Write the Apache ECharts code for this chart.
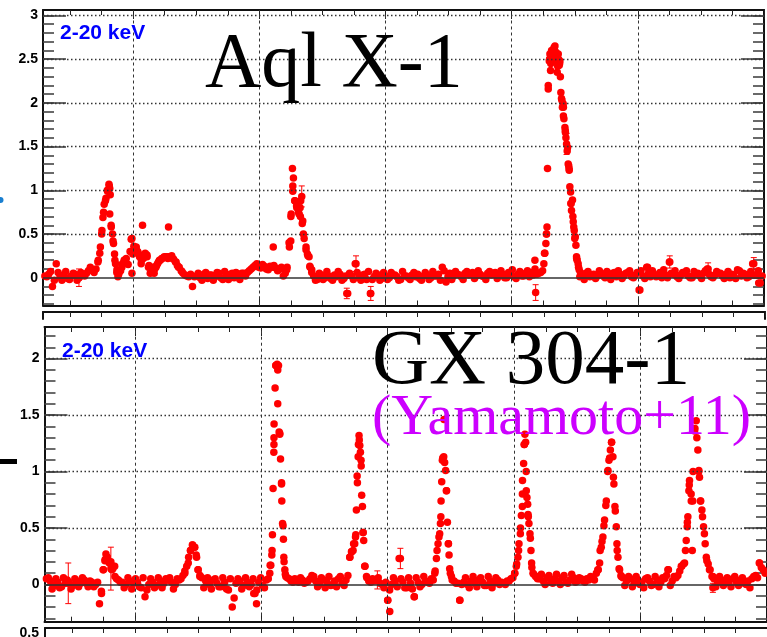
<!DOCTYPE html>
<html>
<head>
<meta charset="utf-8">
<script src="https://cdn.jsdelivr.net/npm/echarts@6/dist/echarts.min.js"></script>
<style>
  html, body { margin: 0; padding: 0; background: #fff; }
  #main { width: 767px; height: 637px; }
</style>
</head>
<body>
<div id="main"></div>
<script>
// time axis in days (arbitrary zero), dotted grid every 100 d
const tStart = -70, tStep = 3;
const tStartMid = -68.5;   // second pass, half a step later
const xRange = [-71.5, 500];
const xMinorTicks = [-50, -25, 0, 25, 50, 75, 100, 125, 150, 175, 200, 225, 250, 275, 300, 325, 350, 375, 400, 425, 450, 475, 500];
const xMajorTicks = [0, 100, 200, 300, 400, 500];
const xGridLines = [0, 100, 200, 300, 400];

// ---- Aql X-1 (top) ----
const aqlRange = [-0.318, 3.063];
const aqlMajor = [0, 0.5, 1, 1.5, 2, 2.5, 3];
const aqlMinor = [-0.3, -0.2, -0.1, 0, 0.1, 0.2, 0.3, 0.4, 0.5, 0.6, 0.7, 0.8, 0.9, 1, 1.1, 1.2, 1.3, 1.4, 1.5, 1.6, 1.7, 1.8, 1.9, 2, 2.1, 2.2, 2.3, 2.4, 2.5, 2.6, 2.7, 2.8, 2.9, 3];
// one value every tStep days from tStart
const aqlBase = [
  0.02, 0.04, -0.10, 0.16, 0.01, 0.03, -0.01, 0.02, 0.04, 0.00,
  0.03, 0.05, 0.12, 0.06, 0.18, 0.50, 0.88, 1.05, 0.42, 0.06,
  0.08, 0.20, 0.15, 0.45, 0.33, 0.26, 0.22, 0.24, 0.06, 0.10,
  0.18, 0.22, 0.24, 0.24, 0.21, 0.14, 0.08, 0.03, 0.01, -0.10,
  0.02, 0.00, 0.04, -0.01, 0.03, 0.01, 0.05, -0.02, 0.02, 0.04,
  0.00, 0.03, 0.05, 0.02, 0.08, 0.12, 0.16, 0.11, 0.13, 0.09,
  0.12, 0.11, 0.10, 0.02, 0.12, 0.70, 0.88, 0.75, 0.62, 0.32,
  0.13, 0.02, -0.02, 0.03, 0.00, 0.02, -0.03, 0.01, 0.04, -0.01,
  -0.18, 0.02, 0.16, 0.00, 0.03, -0.02, -0.18, 0.01, 0.03, -0.01,
  0.02, 0.00, 0.03, 0.01, -0.02, 0.02, 0.00, 0.03, 0.01, -0.01,
  0.02, 0.03, 0.00, 0.02, 0.04, 0.12, -0.05, 0.05, 0.02, 0.04,
  0.01, 0.05, 0.03, 0.06, 0.02, 0.04, 0.01, 0.05, 0.03, 0.06,
  0.02, 0.04, 0.00, 0.03, 0.01, 0.04, 0.02, 0.05, 0.01, 0.03,
  0.04, 0.06, 0.28, 2.20, 2.55, 2.58, 2.45, 1.95, 1.45, 0.85,
  0.45, 0.12, 0.03, 0.05, 0.01, 0.04, 0.02, 0.05, 0.00, 0.03,
  0.05, 0.01, 0.04, 0.02, 0.06, 0.01, 0.03, -0.14, 0.02, 0.12,
  0.01, 0.04, 0.02, 0.00, 0.03, 0.18, 0.04, 0.01, 0.03, 0.05,
  0.02, 0.00, 0.04, 0.02, 0.05, 0.10, 0.01, 0.03, 0.05, 0.02,
  0.04, 0.00, 0.03, 0.09, 0.02, 0.04, 0.01, 0.16, 0.03, -0.06
];
// one value every tStep days from tStartMid
const aqlBaseMid = [
  0.01, 0.07, -0.03, 0.06, -0.03, 0.07, -0.02, 0.05, -0.03, 0.06,
  0.02, 0.08, 0.09, 0.10, 0.28, 0.75, 1.00, 0.60, 0.20, 0.04,
  0.16, 0.22, 0.30, 0.36, 0.30, 0.20, 0.28, 0.14, 0.08, 0.14,
  0.20, 0.23, 0.22, 0.25, 0.18, 0.12, 0.05, 0.02, 0.04, 0.01,
  0.05, -0.03, 0.06, 0.03, -0.03, 0.06, 0.00, 0.07, -0.02, 0.05,
  0.06, -0.02, 0.05, 0.06, 0.10, 0.14, 0.12, 0.15, 0.10, 0.13,
  0.14, 0.08, 0.12, 0.05, 0.40, 1.05, 0.82, 0.70, 0.45, 0.25,
  0.06, -0.03, 0.05, -0.02, 0.07, -0.01, 0.03, 0.07, -0.03, 0.02,
  0.05, -0.02, 0.06, -0.03, 0.04, 0.07, -0.02, 0.05, -0.03, 0.06,
  -0.02, 0.06, 0.03, -0.03, 0.07, 0.02, -0.02, 0.06, 0.04, -0.03,
  0.06, -0.02, 0.07, 0.02, -0.03, 0.08, 0.01, -0.02, 0.07, 0.03,
  -0.02, 0.07, 0.04, -0.01, 0.08, 0.02, -0.02, 0.07, 0.05, -0.01,
  0.08, 0.00, 0.06, 0.09, -0.01, 0.07, 0.02, 0.08, 0.06, 0.10,
  0.05, 0.08, 0.50, 2.50, 2.60, 2.45, 2.05, 1.68, 1.25, 0.70,
  0.22, 0.06, -0.02, 0.07, 0.03, -0.01, 0.08, 0.02, 0.07, -0.02,
  0.06, 0.08, -0.01, 0.05, 0.08, 0.00, 0.06, 0.08, -0.01, 0.05,
  0.08, 0.01, 0.06, 0.09, 0.00, 0.05, 0.08, -0.01, 0.06, 0.08,
  0.00, 0.07, 0.05, -0.01, 0.08, 0.04, 0.00, 0.07, 0.05, -0.01,
  0.07, 0.04, -0.01, 0.08, 0.05, 0.00, 0.07, 0.03, 0.08, 0.02
];
// denser sampling during the outbursts [day, flux]
const aqlFlares = [
  [-27.7, 0.20], [-26, 0.35], [-24.8, 0.54], [-24, 0.69], [-23, 0.84], [-21.6, 0.91], [-20.3, 0.99],
  [-19.2, 1.07], [-18.6, 1.02], [-18.2, 0.95], [-18.6, 0.73], [-17.4, 0.58], [-16.4, 0.50], [-15.6, 0.39],
  [-14.8, 0.27], [-14, 0.16], [-12.9, 0.09], [-12.1, 0.01], [-10.8, 0.07], [-9, 0.12], [-7.1, 0.20],
  [-1.6, 0.44], [-1, 0.05], [-0.3, 0.27], [1, 0.33], [2.4, 0.35], [3.7, 0.29], [5, 0.24], [6.3, 0.16],
  [7.4, 0.60], [9, 0.24], [10.9, 0.26], [12.1, 0.12], [13.5, 0.05], [15, 0.12], [16.6, 0.05], [18, 0.12],
  [19.3, 0.16], [20.8, 0.20], [22.7, 0.22], [24.6, 0.24], [26.7, 0.24], [28, 0.58], [29.3, 0.24],
  [31.4, 0.22], [34, 0.18], [35.9, 0.12], [38.6, 0.07],
  [111, 0.35], [121.7, 0.09], [123.8, 0.35], [124.9, 0.42], [125.2, 0.73], [126.2, 1.25], [127, 1.14],
  [126.5, 0.99], [128.3, 0.88], [129.7, 0.80], [131.5, 0.73], [132.3, 0.80], [132.8, 0.88], [134.4, 0.65],
  [134.9, 0.50], [137, 0.35], [138.1, 0.27], [139.4, 0.24], [140.2, 0.12], [141.5, 0.09],
  [318.4, 0.20], [325.5, 0.16], [326.3, 0.28], [327.1, 0.39], [327.7, 0.50], [328, 0.58], [328.4, 1.25],
  [329, 2.16], [329.8, 2.48], [330, 2.50], [330.3, 2.56], [330.8, 2.37], [331, 2.45], [331.6, 2.60],
  [332, 2.58], [332.4, 2.52], [333, 2.55], [333.5, 2.63], [334, 2.60], [334.3, 2.65], [335, 2.56],
  [335.5, 2.48], [336.1, 2.35], [336.5, 2.42], [336.9, 2.56], [337.2, 2.50], [337.7, 2.43], [338.2, 2.48],
  [338.6, 2.30], [339, 2.12], [339.8, 2.03], [340.2, 1.95], [340.8, 1.99], [341, 1.85], [341.4, 1.82],
  [342.2, 1.72], [342.6, 1.66], [343, 1.60], [344.3, 1.49], [344.8, 1.30], [345.2, 1.28], [345.6, 1.23],
  [346.1, 1.04], [346.7, 0.98], [347, 0.85], [347.4, 0.77], [348.2, 0.89], [348.8, 0.64], [349.2, 0.58],
  [349.6, 0.54], [350.4, 0.47], [350.9, 0.37], [351.4, 0.24], [351.9, 0.20], [352.7, 0.16], [353.5, 0.09],
  [354, 0.01], [401.6, -0.14], [407.7, 0.12], [495.8, -0.06]
];
// [day, flux, error]
const aqlErrors = [
  [-43, 0.00, 0.10], [133.6, 0.93, 0.12], [169.3, -0.18, 0.06], [176.6, 0.16, 0.09], [188.3, -0.18, 0.08],
  [319, -0.17, 0.09], [343.5, 1.53, 0.12], [425.3, 0.18, 0.07], [455.7, 0.10, 0.07], [491.9, 0.16, 0.07]
];

// ---- GX 304-1 (bottom) ----
const gxRange = [-0.33, 2.28];
const gxMajor = [0, 0.5, 1, 1.5, 2];
const gxMinor = [-0.3, -0.2, -0.1, 0, 0.1, 0.2, 0.3, 0.4, 0.5, 0.6, 0.7, 0.8, 0.9, 1, 1.1, 1.2, 1.3, 1.4, 1.5, 1.6, 1.7, 1.8, 1.9, 2, 2.1, 2.2];
const gxBase = [
  0.05, 0.03, -0.01, 0.02, -0.02, 0.01, 0.02, -0.01, 0.03, 0.01,
  0.04, -0.02, 0.02, 0.00, -0.17, 0.13, 0.24, 0.20, 0.16, 0.04,
  0.02, 0.00, 0.03, 0.01, 0.02, -0.03, -0.11, 0.00, 0.02, -0.01,
  0.03, 0.01, 0.04, 0.02, 0.00, 0.04, 0.08, 0.16, 0.30, 0.33,
  0.13, 0.06, 0.03, 0.00, 0.04, 0.01, -0.02, 0.02, -0.05, -0.20,
  0.01, 0.03, -0.01, 0.02, 0.00, -0.08, 0.02, -0.01, 0.04, 0.17,
  1.30, 1.90, 0.90, 0.09, 0.05, 0.02, 0.04, 0.06, 0.01, 0.03,
  0.08, 0.03, 0.00, 0.04, 0.02, -0.01, 0.03, 0.05, 0.01, 0.04,
  0.24, 0.36, 0.90, 1.05, 0.16, 0.03, 0.05, 0.04, 0.01, -0.03,
  -0.14, 0.00, 0.03, 0.23, 0.02, -0.03, 0.01, -0.11, 0.02, 0.00,
  0.03, 0.01, 0.04, 0.30, 0.60, 1.08, 0.36, 0.04, 0.01, -0.14,
  0.02, 0.00, 0.03, 0.01, 0.04, 0.02, -0.01, 0.03, 0.01, 0.04,
  0.02, 0.00, 0.03, 0.06, 0.18, 0.50, 1.24, 0.62, 0.15, 0.07,
  0.05, 0.03, 0.06, 0.02, 0.05, 0.03, 0.06, 0.02, 0.04, 0.06,
  0.03, 0.05, 0.02, 0.04, 0.06, 0.10, 0.30, 0.52, 1.00, 1.26,
  0.65, 0.14, 0.06, 0.03, 0.05, 0.01, 0.04, 0.02, 0.05, 0.03,
  0.00, 0.04, 0.02, 0.05, 0.13, 0.03, 0.06, 0.12, 0.18, 0.55,
  0.80, 1.38, 1.00, 0.60, 0.24, 0.13, 0.05, 0.02, 0.04, 0.01,
  0.03, 0.05, 0.02, 0.04, 0.01, 0.03, 0.05, 0.08, 0.19, 0.13
];
const gxBaseMid = [
  0.06, -0.04, 0.05, -0.03, 0.06, 0.04, -0.04, 0.05, -0.02, 0.06,
  0.01, 0.03, -0.02, 0.02, -0.06, 0.22, 0.20, 0.14, 0.05, 0.02,
  -0.03, 0.06, -0.04, 0.05, -0.02, 0.06, -0.05, 0.05, -0.03, 0.06,
  -0.03, 0.05, 0.06, -0.04, 0.05, 0.05, 0.12, 0.24, 0.35, 0.26,
  0.08, -0.03, 0.06, -0.04, 0.05, -0.02, 0.06, -0.04, 0.05, -0.12,
  0.05, -0.04, 0.06, -0.02, 0.05, -0.05, 0.06, -0.03, 0.05, 0.30,
  1.94, 1.34, 0.40, 0.06, 0.03, 0.05, 0.02, 0.04, 0.02, 0.05,
  0.07, -0.02, 0.06, -0.03, 0.07, 0.00, -0.02, 0.07, -0.01, 0.08,
  0.29, 0.42, 1.28, 0.46, 0.06, 0.02, 0.03, 0.06, 0.00, 0.02,
  -0.05, 0.06, -0.02, 0.05, -0.03, 0.06, -0.04, 0.06, -0.02, 0.07,
  0.02, 0.05, 0.12, 0.42, 1.12, 0.83, 0.10, 0.03, 0.01, 0.00,
  0.06, -0.03, 0.07, -0.02, 0.06, -0.01, 0.07, -0.03, 0.06, 0.00,
  0.01, 0.03, 0.05, 0.10, 0.30, 0.80, 1.00, 0.45, 0.09, 0.05,
  0.09, 0.00, 0.08, 0.01, 0.09, 0.00, 0.08, 0.01, 0.09, 0.02,
  0.06, 0.03, 0.05, 0.07, 0.04, 0.13, 0.38, 0.70, 1.12, 0.95,
  0.30, 0.08, -0.01, 0.07, -0.02, 0.07, 0.00, -0.03, 0.06, -0.01,
  0.07, -0.02, 0.06, 0.08, -0.01, 0.07, 0.08, 0.16, 0.30, 0.88,
  1.00, 1.30, 0.74, 0.45, 0.18, 0.07, -0.02, 0.07, -0.01, 0.06,
  -0.02, 0.07, -0.01, 0.06, 0.00, -0.03, 0.07, 0.06, 0.15, 0.10
];
const gxFlares = [
  [-26.4, -0.08], [-25, 0.13], [-23.7, 0.21], [-22.9, 0.27], [-21.9, 0.24], [-20.3, 0.19], [-18.2, 0.13],
  [-17.1, 0.16], [-15.8, 0.07],
  [39.5, 0.10], [42.2, 0.19], [44, 0.30], [45.6, 0.35], [47.4, 0.33], [48.8, 0.24], [50, 0.13], [51.4, 0.07],
  [94, -0.08], [96.2, -0.17],
  [106.7, 0.10], [107.5, 0.17], [108.3, 0.26], [108.8, 0.44], [109.3, 0.85], [109.9, 1.17], [110, 1.24],
  [110.1, 1.42], [110.9, 1.74], [111.5, 1.94], [112.5, 1.95], [113.6, 1.94], [113, 1.60], [114.1, 1.35],
  [114.6, 1.33], [115.2, 1.11], [116, 0.89], [116.2, 0.74], [116.8, 0.54], [117.2, 0.52], [117.8, 0.24],
  [118, 0.20], [118.6, 0.13], [119.4, 0.07],
  [170, 0.24], [171.3, 0.29], [172.6, 0.30], [173.9, 0.36], [174.7, 0.44], [175.2, 0.66], [175.8, 0.96],
  [176.6, 1.13], [176.8, 1.24], [177.3, 1.32], [177.9, 1.23], [178.4, 1.17], [178.9, 1.10], [179.4, 0.79],
  [180, 0.69], [180.5, 0.46], [181, 0.39], [181.8, 0.16], [183.2, 0.07],
  [200, -0.14], [201.6, -0.24], [221, -0.11],
  [237.2, 0.10], [238.5, 0.23], [239.8, 0.36], [241.1, 0.45], [241.7, 0.54], [242.2, 0.74], [242.7, 0.91],
  [243.2, 1.10], [244.3, 1.13], [244.5, 1.46], [245.8, 1.01], [246.4, 0.83], [247.2, 0.55], [248, 0.36],
  [248.5, 0.26], [249, 0.14], [250.4, 0.07], [257, -0.14],
  [300.4, 0.10], [301.7, 0.16], [303, 0.24], [303.8, 0.36], [304.9, 0.45], [305.7, 0.61], [306.5, 0.69],
  [306.6, 0.92], [307.5, 1.07], [308, 1.24], [308.5, 1.33], [309.1, 1.26], [309.6, 0.83], [310.1, 0.77],
  [310.7, 0.71], [311.2, 0.60], [311.7, 0.54], [312.8, 0.41], [313.3, 0.30], [313.8, 0.19], [314.9, 0.10],
  [317.5, 0.07],
  [366.2, 0.13], [367.6, 0.19], [368.9, 0.33], [370.2, 0.42], [371.5, 0.57], [372.9, 0.74], [374.2, 1.01],
  [375, 1.10], [376.1, 1.19], [377.1, 1.26], [378.1, 1.13], [378.9, 0.89], [379.7, 0.69], [380.8, 0.51],
  [381.3, 0.36], [382.1, 0.24], [383.4, 0.13], [384.7, 0.07], [421.6, 0.13],
  [432.2, 0.16], [434.8, 0.19], [436.1, 0.39], [436.9, 0.51], [437.4, 0.60], [438.2, 0.83], [438.7, 0.92],
  [440.1, 0.74], [440.9, 0.30], [441.3, 0.74], [442.7, 1.36], [444, 1.45], [445.3, 1.19], [446.1, 1.01],
  [446.6, 0.95], [447.4, 0.74], [448.5, 0.66], [449.8, 0.51], [451.1, 0.36], [452.4, 0.21], [454.5, 0.13],
  [457.2, 0.07], [494, 0.19]
];
const gxErrors = [
  [-52.7, 0.01, 0.18], [-19, 0.14, 0.19], [191.8, 0.04, 0.08], [210, 0.23, 0.09], [457.2, -0.03, 0.04]
];

const RED = '#ff0000';
const frameLine = { color: '#111', width: 2 };
const labelFont = { color: '#000', fontWeight: 'bold', fontSize: 14, fontFamily: '"Liberation Sans", Arial, sans-serif' };

function xAx(g, pos, ticks, len, line) {
  return {
    gridIndex: g, type: 'value', min: xRange[0], max: xRange[1], position: pos,
    axisLine: { show: line, onZero: false, lineStyle: frameLine },
    axisTick: { show: !!ticks, inside: true, length: len, customValues: ticks || [], lineStyle: { color: '#222', width: 1 } },
    axisLabel: { show: false }, splitLine: { show: false }
  };
}
function yAx(g, pos, range, ticks, len, line, labels) {
  return {
    gridIndex: g, type: 'value', min: range[0], max: range[1], position: pos,
    axisLine: { show: line, onZero: false, lineStyle: frameLine },
    axisTick: { show: !!ticks, inside: true, length: len, customValues: ticks || [], lineStyle: { color: '#444', width: 1.6 } },
    axisLabel: labels ? Object.assign({ show: true, customValues: labels, margin: 5, formatter: v => String(v) }, labelFont) : { show: false },
    splitLine: { show: false }
  };
}

function gridLines(majors) {
  const d = xGridLines.map(v => ({ xAxis: v, lineStyle: { type: [3, 3], color: '#333', width: 1 } }));
  majors.filter(v => v !== 0).forEach(v => d.push({ yAxis: v, lineStyle: { type: [1.5, 2.5], color: '#333', width: 1.3 } }));
  d.push({ yAxis: 0, lineStyle: { type: 'solid', color: '#333', width: 1.6 } });
  return d;
}

function errRender(params, api) {
  const x = api.value(0), y = api.value(1), e = api.value(2);
  const lo = api.coord([x, y - e]), hi = api.coord([x, y + e]);
  const st = { stroke: RED, lineWidth: 1 };
  return {
    type: 'group', children: [
      { type: 'line', shape: { x1: lo[0], y1: lo[1], x2: hi[0], y2: hi[1] }, style: st },
      { type: 'line', shape: { x1: lo[0] - 3, y1: lo[1], x2: lo[0] + 3, y2: lo[1] }, style: st },
      { type: 'line', shape: { x1: hi[0] - 3, y1: hi[1], x2: hi[0] + 3, y2: hi[1] }, style: st }
    ]
  };
}

function points(base, mid, flares, errs) {
  return base.map((v, i) => [tStart + i * tStep, v])
    .concat(mid.map((v, i) => [tStartMid + i * tStep, v]))
    .concat(flares)
    .concat(errs.map(e => [e[0], e[1]]));
}

function panelSeries(xi, yi, base, mid, flares, errs, majors) {
  return [
    { type: 'scatter', xAxisIndex: xi, yAxisIndex: yi, data: [], z: 1, silent: true,
      markLine: { silent: true, symbol: ['none', 'none'], label: { show: false }, animation: false, data: gridLines(majors) } },
    { type: 'custom', xAxisIndex: xi, yAxisIndex: yi, z: 3, silent: true, data: errs, renderItem: errRender },
    { type: 'scatter', xAxisIndex: xi, yAxisIndex: yi, z: 4, silent: true, data: points(base, mid, flares, errs),
      symbol: 'circle', symbolSize: 7.5, itemStyle: { color: RED, opacity: 1 } }
  ];
}

const chart = echarts.init(document.getElementById('main'), null, { renderer: 'canvas' });
chart.setOption({
  backgroundColor: '#fff',
  animation: false,
  grid: [
    { left: 43, right: 3, top: 10, bottom: 331.5 },
    { left: 44.5, right: 0, top: 327, bottom: 15.3 },
    { left: 43, right: 2, top: 312, height: 7 },
    { left: 45, right: 0, top: 628, height: 40 }
  ],
  xAxis: [
    xAx(0, 'bottom', xMinorTicks, 5, true), xAx(0, 'bottom', xMajorTicks, 9, false),
    xAx(0, 'top', xMinorTicks, 5, true), xAx(0, 'top', xMajorTicks, 9, false),
    xAx(1, 'bottom', xMinorTicks, 5, true), xAx(1, 'bottom', xMajorTicks, 9, false),
    xAx(1, 'top', xMinorTicks, 5, true), xAx(1, 'top', xMajorTicks, 9, false),
    xAx(2, 'top', xMinorTicks, 5, true), xAx(3, 'top', xMinorTicks, 5, true)
  ],
  yAxis: [
    yAx(0, 'left', aqlRange, aqlMinor, 11, true, aqlMajor), yAx(0, 'left', aqlRange, aqlMajor, 23, false, null),
    yAx(0, 'right', aqlRange, aqlMinor, 11, true, null), yAx(0, 'right', aqlRange, aqlMajor, 23, false, null),
    yAx(1, 'left', gxRange, gxMinor, 11, true, gxMajor), yAx(1, 'left', gxRange, gxMajor, 23, false, null),
    yAx(1, 'right', gxRange, gxMinor, 11, true, null), yAx(1, 'right', gxRange, gxMajor, 23, false, null),
    yAx(2, 'left', [0, 1], null, 0, true, null), yAx(2, 'right', [0, 1], null, 0, true, null),
    yAx(3, 'left', [0, 1], null, 0, true, null)
  ],
  series: [].concat(
    panelSeries(0, 0, aqlBase, aqlBaseMid, aqlFlares, aqlErrors, aqlMajor),
    panelSeries(4, 4, gxBase, gxBaseMid, gxFlares, gxErrors, gxMajor)
  ),
  graphic: [
    { type: 'text', x: 60, y: 33, z: 10, style: { text: '2-20 keV', fill: '#0000ff', verticalAlign: 'middle',
      font: 'bold 21px "Liberation Sans", Arial, sans-serif' } },
    { type: 'text', x: 62, y: 351, z: 10, style: { text: '2-20 keV', fill: '#0000ff', verticalAlign: 'middle',
      font: 'bold 21px "Liberation Sans", Arial, sans-serif' } },
    { type: 'text', x: 205, y: 66, z: 10, style: { text: 'Aql X-1', fill: '#000', verticalAlign: 'middle',
      font: '78px "Liberation Serif", "DejaVu Serif", serif' } },
    { type: 'text', x: 372, y: 362, z: 10, style: { text: 'GX 304-1', fill: '#000', verticalAlign: 'middle',
      font: '79px "Liberation Serif", "DejaVu Serif", serif' } },
    { type: 'text', x: 372, y: 419, z: 10, style: { text: '(Yamamoto+11)', fill: '#cc00ff', verticalAlign: 'middle',
      font: '58px "Liberation Serif", "DejaVu Serif", serif' } },
    { type: 'text', x: 39, y: 633, z: 10, style: { text: '0.5', fill: '#000', align: 'right', verticalAlign: 'middle',
      font: 'bold 14px "Liberation Sans", Arial, sans-serif' } },
    { type: 'circle', shape: { cx: 0.5, cy: 200, r: 3 }, style: { fill: '#1a7fd0' } },
    { type: 'rect', shape: { x: 0, y: 459, width: 17, height: 5 }, style: { fill: '#000' } }
  ]
});
</script>
</body>
</html>
